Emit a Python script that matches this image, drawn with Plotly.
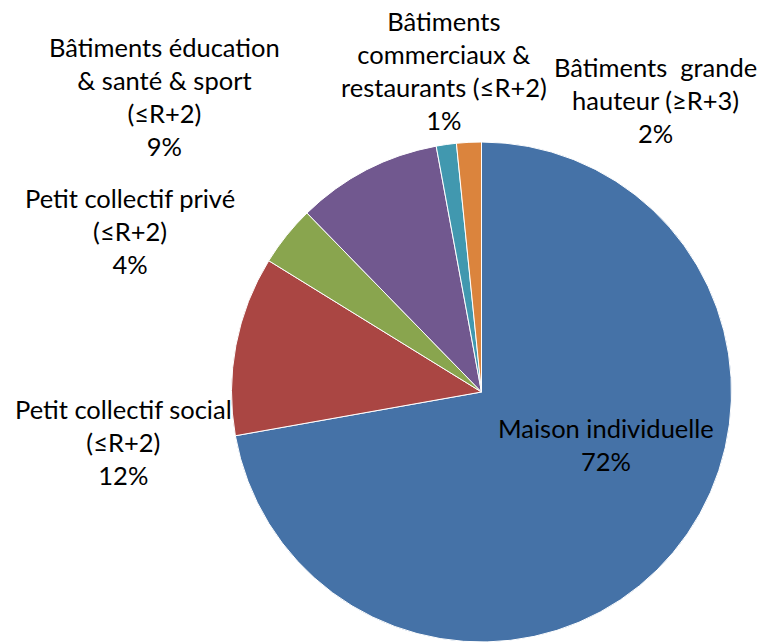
import plotly.graph_objects as go

# Data
categories = [
    "Maison individuelle",
    "Petit collectif social<br>(≤R+2)",
    "Petit collectif privé<br>(≤R+2)",
    "Bâtiments éducation<br>& santé & sport<br>(≤R+2)",
    "Bâtiments<br>commerciaux &<br>restaurants (≤R+2)",
    "Bâtiments\u00a0 grande<br>hauteur (≥R+3)",
]
shares = [72.2, 11.6, 3.9, 9.4, 1.3, 1.6]
colors = ["#4572A7", "#AA4643", "#89A54E", "#71588F", "#4198AF", "#DB843D"]

W, H = 765, 642
# label centres in pixels (layout only)
label_pos = [(606, 444), (123, 442), (130, 231), (164, 97), (444, 70), (655, 100)]

fig = go.Figure(go.Pie(
    values=shares,
    labels=[c.replace("<br>", " ") for c in categories],
    sort=False,
    direction="clockwise",
    rotation=0,
    marker=dict(colors=colors, line=dict(color="white", width=1)),
    textinfo="none",
    hoverinfo="label+percent",
    showlegend=False,
    domain=dict(x=[(481.5 - 250) / W, (481.5 + 250) / W], y=[0, (H - 142) / H]),
))

total = sum(shares)
for cat, val, (px, py) in zip(categories, shares, label_pos):
    fig.add_annotation(
        x=px / W, y=1 - py / H, xref="paper", yref="paper",
        xanchor="center", yanchor="middle", align="center",
        text=f"{cat}<br>{round(val / total * 100)}%",
        showarrow=False,
        font=dict(family="Lato", size=25.5, color="#000000"),
    )

fig.update_layout(
    width=W, height=H,
    margin=dict(l=0, r=0, t=0, b=0),
    paper_bgcolor="white", plot_bgcolor="white",
)

fig.write_html("out.html", config={"displayModeBar": False},
               post_script="document.body.style.margin='0';")
